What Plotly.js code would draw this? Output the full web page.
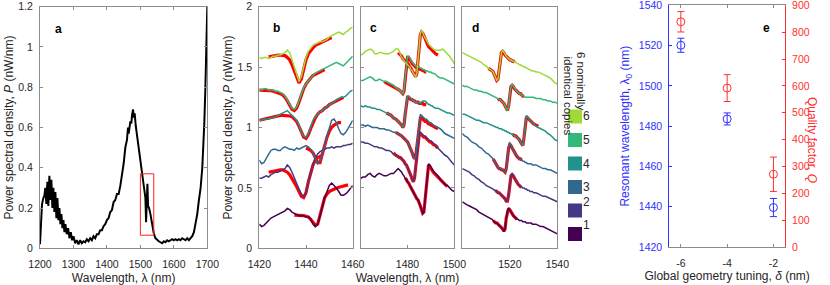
<!DOCTYPE html>
<html><head><meta charset="utf-8">
<script src="https://cdn.plot.ly/plotly-3.0.1.min.js"></script>
<style>html,body{margin:0;padding:0;background:#fff}#plot{width:830px;height:285px}</style>
</head><body><div id="plot"></div>
<script>
// ---------------- DATA ----------------
// Panel a: full spectrum
const aX = [1200,1203,1206,1210,1213,1216,1219,1222,1225,1228,1231,1234,1237,1240,1243,1246,1249,1252,1255,1258,1261,1264,1267,1270,1273,1276,1280,1284,1288,1292,1296,1300,1305,1310,1315,1320,1325,1330,1335,1340,1345,1350,1355,1360,1365,1370,1375,1380,1385,1390,1395,1400,1405,1410,1415,1420,1425,1430,1435,1440,1445,1448,1450,1455,1460,1463,1465,1470,1473,1475,1478,1480,1483,1486,1490,1495,1500,1505,1510,1515,1517,1519,1521,1523,1526,1530,1535,1540,1545,1550,1555,1560,1565,1570,1575,1580,1585,1590,1595,1600,1605,1610,1615,1620,1625,1630,1635,1640,1645,1650,1655,1660,1665,1670,1675,1680,1685,1688,1691,1694,1697,1700];
const aY = [0.02,0.12,0.22,0.25,0.26,0.30,0.22,0.33,0.21,0.36,0.24,0.34,0.20,0.30,0.18,0.28,0.15,0.25,0.14,0.20,0.12,0.17,0.10,0.14,0.08,0.12,0.07,0.10,0.05,0.08,0.04,0.06,0.025,0.04,0.02,0.04,0.025,0.035,0.03,0.045,0.035,0.05,0.04,0.06,0.05,0.07,0.07,0.09,0.09,0.11,0.12,0.14,0.15,0.18,0.19,0.23,0.24,0.27,0.27,0.31,0.36,0.41,0.42,0.50,0.54,0.60,0.57,0.63,0.62,0.66,0.69,0.65,0.67,0.61,0.56,0.50,0.44,0.37,0.30,0.25,0.13,0.22,0.32,0.21,0.20,0.17,0.11,0.075,0.05,0.04,0.035,0.03,0.025,0.035,0.03,0.04,0.035,0.04,0.045,0.04,0.045,0.04,0.045,0.04,0.05,0.045,0.04,0.05,0.04,0.05,0.06,0.08,0.12,0.17,0.24,0.30,0.40,0.50,0.62,0.78,0.97,1.20];
const boxX = [1500,1540];
const boxY = [0.065,0.37];

// Panel b: 1420-1460 nm, copies 1..6
const bX = [1420,1421,1422,1423,1424,1425,1426,1427,1428,1429,1430,1431,1432,1433,1434,1435,1436,1437,1438,1439,1440,1441,1442,1443,1444,1445,1446,1447,1448,1449,1450,1451,1452,1453,1454,1455,1456,1457,1458,1459,1460];
const b1 = [0.20,0.18,0.19,0.21,0.23,0.25,0.26,0.27,0.28,0.29,0.30,0.31,0.33,0.32,0.30,0.29,0.28,0.27,0.27,0.27,0.26,0.26,0.24,0.20,0.18,0.20,0.27,0.35,0.42,0.47,0.52,0.54,0.52,0.50,0.47,0.44,0.44,0.45,0.47,0.50,0.52];
const b2 = [0.58,0.58,0.59,0.60,0.59,0.61,0.62,0.63,0.63,0.64,0.65,0.66,0.69,0.67,0.63,0.58,0.53,0.49,0.45,0.43,0.46,0.55,0.63,0.70,0.75,0.78,0.80,0.81,0.82,0.83,0.83,0.84,0.83,0.84,0.84,0.84,0.85,0.85,0.86,0.86,0.87];
const b3 = [0.73,0.70,0.71,0.75,0.78,0.81,0.82,0.82,0.81,0.81,0.83,0.84,0.83,0.82,0.82,0.81,0.83,0.82,0.83,0.84,0.85,0.84,0.82,0.79,0.75,0.70,0.72,0.78,0.85,0.93,1.00,1.06,1.07,1.04,0.99,0.95,0.94,0.96,0.99,1.03,1.06];
const b4 = [1.06,1.06,1.07,1.07,1.07,1.08,1.08,1.09,1.10,1.11,1.12,1.13,1.14,1.12,1.10,1.08,1.06,1.02,0.96,0.93,0.92,0.95,1.01,1.06,1.09,1.11,1.13,1.14,1.16,1.17,1.19,1.20,1.21,1.23,1.24,1.25,1.25,1.26,1.28,1.30,1.31];
const b5 = [1.31,1.31,1.32,1.32,1.31,1.31,1.31,1.30,1.30,1.29,1.28,1.26,1.23,1.19,1.16,1.15,1.17,1.22,1.28,1.33,1.36,1.39,1.41,1.43,1.45,1.46,1.47,1.48,1.49,1.50,1.51,1.52,1.53,1.54,1.53,1.52,1.51,1.53,1.55,1.57,1.59];
const b6 = [1.58,1.57,1.58,1.58,1.57,1.58,1.59,1.59,1.60,1.60,1.61,1.62,1.64,1.62,1.56,1.50,1.43,1.38,1.42,1.50,1.58,1.63,1.66,1.68,1.69,1.70,1.71,1.71,1.72,1.73,1.75,1.76,1.77,1.78,1.79,1.78,1.77,1.79,1.80,1.82,1.83];
// fits, panel b
const fb1x = [1435,1436,1437,1438,1439,1440,1441,1442,1443,1444,1445,1446,1447,1448,1449,1450,1451,1452,1453,1454,1455,1456,1457,1458];
const fb1y = [0.275,0.275,0.275,0.27,0.27,0.265,0.26,0.24,0.21,0.19,0.20,0.27,0.36,0.42,0.45,0.47,0.48,0.49,0.50,0.505,0.51,0.515,0.52,0.525];
const fb2x = [1424,1425,1426,1427,1428,1429,1430,1431,1432,1433,1434,1435,1436,1437,1438,1439,1440,1441,1442,1443,1444,1445,1446,1447];
const fb2y = [0.63,0.635,0.64,0.645,0.65,0.65,0.65,0.64,0.63,0.61,0.58,0.55,0.51,0.47,0.43,0.42,0.46,0.55,0.63,0.69,0.73,0.75,0.76,0.77];
const fb3x = [1440,1441,1442,1443,1444,1445,1446,1447,1448,1449,1450,1451,1452,1453,1454,1455];
const fb3y = [0.83,0.82,0.81,0.79,0.75,0.71,0.71,0.77,0.85,0.92,0.97,1.00,1.02,1.03,1.04,1.04];
const fb4x = [1420,1421,1422,1423,1424,1425,1426,1427,1428,1429,1430,1431,1432,1433,1434,1435,1436,1437,1438,1439,1440,1441,1442,1443,1444,1445,1446,1447,1448,1449,1450,1451,1452,1453,1454,1455,1456];
const fb4y = [1.06,1.065,1.07,1.075,1.08,1.085,1.09,1.09,1.095,1.10,1.10,1.10,1.10,1.095,1.09,1.07,1.05,1.01,0.96,0.92,0.91,0.94,0.99,1.04,1.08,1.11,1.13,1.14,1.16,1.17,1.19,1.20,1.21,1.22,1.23,1.24,1.25];
const fb5x = [1420,1421,1422,1423,1424,1425,1426,1427,1428,1429,1430,1431,1432,1433,1434,1435,1436,1437,1438,1439,1440,1441,1442,1443,1444,1445,1446,1447,1448];
const fb5y = [1.31,1.31,1.31,1.31,1.31,1.305,1.30,1.295,1.29,1.28,1.27,1.25,1.22,1.18,1.15,1.14,1.16,1.21,1.27,1.32,1.36,1.39,1.41,1.43,1.44,1.45,1.46,1.47,1.48];
const fb6x = [1424,1425,1426,1427,1428,1429,1430,1431,1432,1433,1434,1435,1436,1437,1438,1439,1440,1441,1442,1443,1444,1445,1446,1447,1448,1449,1450,1451];
const fb6y = [1.585,1.587,1.59,1.595,1.60,1.60,1.60,1.595,1.58,1.56,1.52,1.47,1.41,1.37,1.40,1.48,1.56,1.61,1.64,1.66,1.68,1.69,1.70,1.71,1.72,1.73,1.74,1.745];

// Panel c: 1460-1500 nm
const cX = [1460,1461,1462,1463,1464,1465,1466,1467,1468,1469,1470,1471,1472,1473,1474,1475,1476,1476.5,1477,1477.5,1478,1478.5,1479,1479.5,1480,1480.5,1481,1481.5,1482,1482.5,1483,1483.5,1484,1484.5,1485,1485.5,1486,1486.5,1487,1487.5,1488,1488.5,1489,1489.5,1490,1490.5,1491,1492,1493,1494,1495,1496,1497,1498,1499,1500];
const c1 = [0.58,0.59,0.59,0.61,0.62,0.60,0.59,0.61,0.62,0.61,0.60,0.60,0.61,0.62,0.62,0.64,0.66,0.65,0.64,0.63,0.61,0.60,0.58,0.57,0.55,0.54,0.52,0.50,0.48,0.47,0.45,0.43,0.41,0.40,0.38,0.35,0.32,0.29,0.30,0.40,0.55,0.66,0.70,0.69,0.67,0.66,0.64,0.62,0.60,0.57,0.55,0.53,0.52,0.50,0.48,0.47];
const c2 = [0.88,0.88,0.87,0.87,0.86,0.85,0.84,0.84,0.83,0.83,0.82,0.81,0.81,0.80,0.78,0.77,0.76,0.75,0.75,0.74,0.73,0.72,0.70,0.69,0.67,0.65,0.63,0.60,0.57,0.55,0.58,0.68,0.80,0.90,0.95,0.96,0.95,0.94,0.93,0.93,0.92,0.91,0.90,0.89,0.89,0.88,0.87,0.85,0.83,0.81,0.79,0.77,0.76,0.73,0.71,0.69];
const c3 = [1.02,1.02,1.01,1.02,1.01,1.00,1.00,1.00,0.99,0.99,0.99,0.98,0.98,0.97,0.96,0.96,0.95,0.94,0.94,0.93,0.92,0.91,0.90,0.89,0.88,0.86,0.84,0.82,0.79,0.76,0.74,0.76,0.85,0.98,1.07,1.11,1.10,1.09,1.08,1.07,1.07,1.06,1.05,1.04,1.04,1.03,1.02,1.01,1.00,0.99,0.97,0.95,0.94,0.93,0.92,0.91];
const c4 = [1.18,1.17,1.18,1.17,1.17,1.16,1.16,1.15,1.15,1.14,1.13,1.12,1.11,1.10,1.08,1.07,1.05,1.04,1.03,1.02,1.00,1.02,1.12,1.22,1.26,1.26,1.25,1.24,1.23,1.22,1.22,1.21,1.21,1.21,1.21,1.20,1.21,1.22,1.22,1.22,1.21,1.20,1.19,1.19,1.18,1.18,1.17,1.16,1.16,1.15,1.14,1.13,1.12,1.12,1.11,1.10];
const c5 = [1.39,1.39,1.40,1.41,1.42,1.41,1.39,1.39,1.40,1.39,1.38,1.38,1.37,1.36,1.35,1.33,1.32,1.31,1.30,1.29,1.28,1.31,1.42,1.54,1.59,1.59,1.57,1.55,1.54,1.53,1.52,1.51,1.51,1.50,1.50,1.49,1.49,1.48,1.48,1.47,1.47,1.47,1.46,1.46,1.46,1.45,1.45,1.44,1.42,1.41,1.41,1.40,1.39,1.38,1.37,1.36];
const c6 = [1.60,1.61,1.63,1.64,1.65,1.64,1.61,1.61,1.62,1.62,1.61,1.61,1.61,1.62,1.63,1.65,1.65,1.63,1.60,1.58,1.57,1.55,1.54,1.53,1.52,1.51,1.50,1.48,1.47,1.45,1.43,1.42,1.45,1.57,1.70,1.78,1.80,1.79,1.76,1.74,1.72,1.70,1.69,1.68,1.67,1.66,1.65,1.64,1.64,1.64,1.65,1.63,1.61,1.59,1.56,1.53];
// fits, panel c
const fc1x = [1479,1479.5,1480,1480.5,1481,1481.5,1482,1482.5,1483,1483.5,1484,1484.5,1485,1485.5,1486,1486.5,1487,1487.5,1488,1488.5,1489,1489.5,1490,1490.5,1491,1492,1493,1494,1495,1496,1497];
const fc1y = [0.58,0.57,0.55,0.54,0.52,0.50,0.48,0.47,0.45,0.43,0.41,0.40,0.38,0.35,0.32,0.29,0.30,0.40,0.54,0.65,0.69,0.68,0.66,0.65,0.63,0.61,0.59,0.57,0.55,0.53,0.51];
const fc2x = [1474,1475,1476,1476.5,1477,1477.5,1478,1478.5,1479,1479.5,1480,1480.5,1481,1481.5,1482,1482.5,1483,1483.5,1484,1484.5,1485,1485.5,1486,1486.5,1487,1487.5,1488,1488.5,1489,1489.5,1490,1490.5,1491,1492,1493];
const fc2y = [0.79,0.77,0.76,0.75,0.75,0.74,0.73,0.72,0.70,0.69,0.67,0.65,0.63,0.60,0.57,0.55,0.58,0.68,0.80,0.89,0.94,0.95,0.94,0.93,0.92,0.92,0.91,0.90,0.89,0.88,0.88,0.87,0.86,0.85,0.83];
const fc3x = [1475,1476,1476.5,1477,1477.5,1478,1478.5,1479,1479.5,1480,1480.5,1481,1481.5,1482,1482.5,1483,1483.5,1484,1484.5,1485,1485.5,1486,1486.5,1487,1487.5,1488,1488.5,1489,1489.5,1490,1490.5,1491,1492,1493];
const fc3y = [0.96,0.95,0.94,0.94,0.93,0.92,0.91,0.90,0.89,0.88,0.86,0.84,0.82,0.79,0.76,0.74,0.76,0.84,0.96,1.05,1.08,1.08,1.07,1.06,1.05,1.05,1.04,1.03,1.03,1.02,1.02,1.01,1.00,0.99];
const fc4x = [1471,1472,1473,1474,1475,1476,1476.5,1477,1477.5,1478,1478.5,1479,1479.5,1480,1480.5,1481,1481.5,1482,1482.5,1483,1483.5,1484,1484.5,1485,1485.5,1486,1486.5,1487,1487.5,1488];
const fc4y = [1.12,1.11,1.10,1.08,1.07,1.05,1.04,1.03,1.02,1.00,1.02,1.11,1.21,1.25,1.25,1.24,1.23,1.23,1.22,1.22,1.21,1.21,1.21,1.20,1.20,1.20,1.20,1.19,1.19,1.19];
const fc5x = [1470,1471,1472,1473,1474,1475,1476,1476.5,1477,1477.5,1478,1478.5,1479,1479.5,1480,1480.5,1481,1481.5,1482,1482.5,1483,1483.5,1484,1484.5,1485,1485.5,1486,1486.5,1487,1487.5,1488];
const fc5y = [1.38,1.37,1.36,1.35,1.34,1.33,1.32,1.31,1.30,1.29,1.28,1.30,1.41,1.53,1.58,1.58,1.56,1.54,1.53,1.52,1.51,1.50,1.50,1.49,1.49,1.48,1.48,1.47,1.47,1.46,1.46];
const fc6x = [1476,1476.5,1477,1477.5,1478,1478.5,1479,1479.5,1480,1480.5,1481,1481.5,1482,1482.5,1483,1483.5,1484,1484.5,1485,1485.5,1486,1486.5,1487,1487.5,1488,1488.5,1489,1489.5,1490,1490.5,1491,1492,1493];
const fc6y = [1.62,1.61,1.60,1.59,1.57,1.56,1.55,1.54,1.53,1.52,1.50,1.49,1.47,1.45,1.43,1.42,1.45,1.56,1.69,1.77,1.79,1.78,1.76,1.73,1.71,1.69,1.67,1.66,1.65,1.64,1.63,1.61,1.60];

// Panel d: 1500-1540 nm
const dX = [1500,1501,1502,1503,1504,1505,1506,1507,1508,1509,1510,1511,1512,1512.5,1513,1513.5,1514,1514.5,1515,1515.5,1516,1516.5,1517,1517.5,1518,1518.5,1519,1519.5,1520,1520.5,1521,1521.5,1522,1522.5,1523,1523.5,1524,1524.5,1525,1525.5,1526,1526.5,1527,1527.5,1528,1528.5,1529,1529.5,1530,1531,1532,1533,1534,1535,1536,1537,1538,1539,1540];
const d1 = [0.385,0.37,0.36,0.35,0.34,0.33,0.32,0.30,0.29,0.28,0.27,0.26,0.25,0.24,0.23,0.22,0.21,0.21,0.20,0.19,0.18,0.17,0.16,0.14,0.16,0.25,0.31,0.33,0.32,0.30,0.28,0.27,0.26,0.25,0.24,0.24,0.23,0.23,0.23,0.22,0.22,0.22,0.21,0.21,0.21,0.21,0.21,0.20,0.20,0.20,0.19,0.18,0.18,0.17,0.16,0.15,0.14,0.13,0.12];
const d2 = [0.66,0.65,0.64,0.63,0.61,0.60,0.58,0.57,0.55,0.54,0.52,0.51,0.50,0.50,0.49,0.48,0.48,0.47,0.46,0.46,0.45,0.44,0.43,0.42,0.41,0.39,0.39,0.44,0.53,0.60,0.62,0.60,0.58,0.56,0.55,0.53,0.52,0.51,0.51,0.50,0.50,0.49,0.49,0.48,0.48,0.47,0.47,0.47,0.46,0.46,0.45,0.44,0.43,0.43,0.42,0.41,0.40,0.39,0.385];
const d3 = [0.95,0.93,0.92,0.90,0.88,0.87,0.86,0.84,0.83,0.81,0.79,0.78,0.76,0.75,0.74,0.72,0.70,0.68,0.67,0.66,0.66,0.65,0.65,0.64,0.63,0.66,0.75,0.84,0.87,0.86,0.83,0.81,0.79,0.77,0.76,0.75,0.74,0.74,0.73,0.72,0.72,0.71,0.71,0.70,0.70,0.70,0.70,0.69,0.69,0.69,0.68,0.67,0.66,0.66,0.65,0.65,0.64,0.63,0.62];
const d4 = [1.11,1.11,1.10,1.09,1.08,1.07,1.06,1.06,1.05,1.04,1.04,1.03,1.02,1.02,1.01,1.01,1.00,1.00,1.00,0.99,0.99,0.99,0.98,0.98,0.97,0.97,0.96,0.96,0.95,0.95,0.94,0.94,0.93,0.93,0.92,0.91,0.90,0.88,0.86,0.85,0.92,1.05,1.10,1.09,1.07,1.06,1.05,1.04,1.03,1.01,1.00,0.99,0.98,0.97,0.95,0.94,0.92,0.90,0.89];
const d5 = [1.35,1.34,1.34,1.33,1.32,1.31,1.31,1.30,1.30,1.29,1.29,1.28,1.27,1.27,1.26,1.26,1.25,1.25,1.24,1.23,1.23,1.22,1.21,1.20,1.18,1.15,1.14,1.18,1.27,1.34,1.36,1.34,1.32,1.31,1.30,1.29,1.28,1.28,1.27,1.26,1.26,1.25,1.25,1.25,1.25,1.25,1.25,1.25,1.25,1.24,1.24,1.24,1.23,1.23,1.22,1.22,1.21,1.21,1.20];
const d6 = [1.62,1.61,1.60,1.59,1.58,1.57,1.56,1.55,1.54,1.52,1.51,1.49,1.48,1.47,1.46,1.44,1.42,1.39,1.40,1.48,1.57,1.62,1.64,1.62,1.61,1.59,1.58,1.57,1.56,1.56,1.55,1.55,1.54,1.54,1.53,1.53,1.52,1.52,1.51,1.51,1.50,1.50,1.49,1.49,1.48,1.48,1.47,1.47,1.47,1.46,1.46,1.45,1.44,1.43,1.42,1.41,1.39,1.37,1.36];
// fits, panel d
const fd1x = [1513,1513.5,1514,1514.5,1515,1515.5,1516,1516.5,1517,1517.5,1518,1518.5,1519,1519.5,1520,1520.5,1521,1521.5,1522,1522.5,1523];
const fd1y = [0.23,0.22,0.21,0.21,0.20,0.19,0.18,0.17,0.16,0.14,0.16,0.25,0.31,0.33,0.32,0.30,0.28,0.27,0.26,0.25,0.24];
const fd2x = [1514,1514.5,1515,1515.5,1516,1516.5,1517,1517.5,1518,1518.5,1519,1519.5,1520,1520.5,1521,1521.5,1522,1522.5,1523,1523.5,1524,1524.5,1525];
const fd2y = [0.48,0.47,0.46,0.46,0.45,0.44,0.43,0.42,0.41,0.39,0.39,0.44,0.53,0.60,0.61,0.60,0.58,0.56,0.55,0.53,0.52,0.51,0.51];
const fd3x = [1513,1513.5,1514,1514.5,1515,1515.5,1516,1516.5,1517,1517.5,1518,1518.5,1519,1519.5,1520,1520.5,1521,1521.5,1522,1522.5,1523,1523.5,1524,1524.5,1525];
const fd3y = [0.74,0.72,0.70,0.68,0.67,0.66,0.66,0.65,0.65,0.64,0.63,0.66,0.75,0.83,0.86,0.85,0.83,0.81,0.79,0.77,0.76,0.75,0.74,0.74,0.73];
const fd4x = [1521,1521.5,1522,1522.5,1523,1523.5,1524,1524.5,1525,1525.5,1526,1526.5,1527,1527.5,1528,1528.5,1529,1529.5,1530,1531,1532];
const fd4y = [0.94,0.94,0.93,0.93,0.92,0.91,0.90,0.88,0.86,0.85,0.92,1.04,1.09,1.08,1.07,1.06,1.05,1.04,1.03,1.02,1.01];
const fd5x = [1515,1515.5,1516,1516.5,1517,1517.5,1518,1518.5,1519,1519.5,1520,1520.5,1521,1521.5,1522,1522.5,1523,1523.5,1524,1524.5,1525,1525.5,1526];
const fd5y = [1.24,1.23,1.23,1.22,1.21,1.20,1.18,1.15,1.14,1.18,1.27,1.34,1.35,1.34,1.32,1.31,1.30,1.29,1.28,1.28,1.27,1.26,1.26];
const fd6x = [1511,1512,1512.5,1513,1513.5,1514,1514.5,1515,1515.5,1516,1516.5,1517,1517.5,1518,1518.5,1519,1519.5,1520,1520.5,1521,1521.5,1522];
const fd6y = [1.49,1.48,1.47,1.46,1.44,1.42,1.39,1.40,1.48,1.57,1.62,1.63,1.62,1.60,1.59,1.58,1.57,1.56,1.56,1.55,1.55,1.54];

// Panel e: global geometry tuning
const delta = [-6,-4,-2];
const lambda0 = [1520.2,1483.6,1439.6];
const lambda0Err = [3.5,3.0,4.5];
const qFactor = [839,592,271];
const qFactorErr = [38,50,64];

// Legend
const copyLabels = ['1','2','3','4','5','6'];
const copyColors = ['#440154','#443983','#31688e','#21918c','#35b779','#a0da39'];

// ---------------- LAYOUT HELPERS ----------------
const W = 830, H = 285;
const fx = p => p / W, fy = p => 1 - p / H;
const FONT = '"Liberation Sans", Arial, sans-serif';
const GRAY = '#8c8c8c', TXT = '#262626', BLUE = '#3030ff', RED = '#ff3030';
const TF = {family: FONT, size: 10.5, color: TXT};
const TTL = {family: FONT, size: 12, color: TXT};

function ax(extra) {
  return Object.assign({
    showline: true, linecolor: GRAY, linewidth: 1, mirror: 'ticks',
    ticks: 'inside', ticklen: 3, tickcolor: GRAY, tickwidth: 1,
    showgrid: false, zeroline: false, tickfont: TF, fixedrange: true,
    ticklabeloverflow: 'allow'
  }, extra);
}

const yTop = 6.7, yBot = 248.3;
const yDom = [fy(yBot), fy(yTop)];

const traces = [];
// panel a
traces.push({x: aX, y: aY, xaxis: 'x', yaxis: 'y', mode: 'lines', line: {color: '#000', width: 2}, hoverinfo: 'skip'});

const bData = [b1,b2,b3,b4,b5,b6], cData = [c1,c2,c3,c4,c5,c6], dData = [d1,d2,d3,d4,d5,d6];
const bFits = [[fb1x,fb1y],[fb2x,fb2y],[fb3x,fb3y],[fb4x,fb4y],[fb5x,fb5y],[fb6x,fb6y]];
const cFits = [[fc1x,fc1y],[fc2x,fc2y],[fc3x,fc3y],[fc4x,fc4y],[fc5x,fc5y],[fc6x,fc6y]];
const dFits = [[fd1x,fd1y],[fd2x,fd2y],[fd3x,fd3y],[fd4x,fd4y],[fd5x,fd5y],[fd6x,fd6y]];
const panels = [
  {xa: 'x2', ya: 'y2', X: bX, data: bData, fits: bFits},
  {xa: 'x3', ya: 'y3', X: cX, data: cData, fits: cFits},
  {xa: 'x4', ya: 'y4', X: dX, data: dData, fits: dFits}
];
panels.forEach(p => {
  p.fits.forEach(f => traces.push({x: f[0], y: f[1], xaxis: p.xa, yaxis: p.ya, mode: 'lines',
    line: {color: '#ff0000', width: 3.2}, hoverinfo: 'skip'}));
  p.data.forEach((d, i) => traces.push({x: p.X, y: d, xaxis: p.xa, yaxis: p.ya, mode: 'lines',
    line: {color: copyColors[i], width: 1.5}, hoverinfo: 'skip'}));
});
// panel e
traces.push({x: delta, y: lambda0, xaxis: 'x5', yaxis: 'y5', mode: 'markers',
  marker: {symbol: 'circle-open', size: 8, color: BLUE, line: {width: 1, color: BLUE}},
  error_y: {type: 'data', array: lambda0Err, visible: true, color: BLUE, thickness: 1, width: 3.5}});
traces.push({x: delta, y: qFactor, xaxis: 'x5', yaxis: 'y6', mode: 'markers',
  marker: {symbol: 'circle-open', size: 8, color: RED, line: {width: 1, color: RED}},
  error_y: {type: 'data', array: qFactorErr, visible: true, color: RED, thickness: 1, width: 3.5}});

const wl = 'Wavelength, λ (nm)';
const layout = {
  width: W, height: H, margin: {l: 0, r: 0, t: 0, b: 0},
  paper_bgcolor: '#fff', plot_bgcolor: 'rgba(0,0,0,0)',
  showlegend: false, font: {family: FONT, size: 11, color: TXT},
  xaxis: ax({domain: [fx(40), fx(207.3)], range: [1200, 1700], anchor: 'y',
    tickvals: [1200,1300,1400,1500,1600,1700], ticklabelstandoff: 6,
    title: {text: wl, font: TTL, standoff: 4}}),
  yaxis: ax({domain: yDom, range: [0, 1.2], anchor: 'x',
    tickvals: [0,0.2,0.4,0.6,0.8,1,1.2], ticklabelstandoff: 4,
    title: {text: 'Power spectral density, <i>P</i> (nW/nm)', font: TTL, standoff: 2}}),
  xaxis2: ax({domain: [fx(259.3), fx(352.7)], range: [1420, 1460], anchor: 'y2',
    tickvals: [1420,1440,1460], ticklabelstandoff: 6}),
  yaxis2: ax({domain: yDom, range: [0, 2], anchor: 'x2',
    tickvals: [0,0.5,1,1.5,2], ticklabelstandoff: 4,
    title: {text: 'Power spectral density, <i>P</i> (nW/nm)', font: TTL, standoff: 2}}),
  xaxis3: ax({domain: [fx(360.7), fx(454.3)], range: [1460, 1500], anchor: 'y3',
    tickvals: [1480,1500], ticklabelstandoff: 6,
    title: {text: wl, font: TTL, standoff: 4}}),
  yaxis3: ax({domain: yDom, range: [0, 2], anchor: 'x3', tickvals: [0,0.5,1,1.5,2], showticklabels: false}),
  xaxis4: ax({domain: [fx(462.3), fx(557.3)], range: [1500, 1540], anchor: 'y4',
    tickvals: [1520,1540], ticklabelstandoff: 6}),
  yaxis4: ax({domain: yDom, range: [0, 2], anchor: 'x4', tickvals: [0,0.5,1,1.5,2], showticklabels: false}),
  xaxis5: ax({domain: [fx(669.3), fx(785)], range: [-6.5, -1.5], anchor: 'y5',
    tickvals: [-6,-4,-2], ticktext: ['-6','-4','-2'], ticklabelstandoff: 6,
    title: {text: 'Global geometry tuning, <i>δ</i> (nm)', font: TTL, standoff: 4}}),
  yaxis5: ax({domain: [fy(247), fy(5.4)], range: [1420, 1540], anchor: 'x5', side: 'left',
    mirror: false, linecolor: BLUE, tickcolor: BLUE, tickfont: {family: FONT, size: 10.5, color: BLUE},
    tickvals: [1420,1440,1460,1480,1500,1520,1540], ticklabelstandoff: 4,
    title: {text: 'Resonant wavelength, λ<sub>0</sub> (nm)', font: {family: FONT, size: 12, color: BLUE}, standoff: 6}}),
  yaxis6: ax({domain: [fy(247), fy(5.4)], range: [0, 900], anchor: 'x5', overlaying: 'y5', side: 'right',
    mirror: false, linecolor: RED, tickcolor: RED, tickfont: {family: FONT, size: 10.5, color: RED},
    tickvals: [0,100,200,300,400,500,600,700,800,900], ticklabelstandoff: 4}),
  shapes: [
    {type: 'rect', xref: 'x', yref: 'y', x0: boxX[0], x1: boxX[1], y0: boxY[0], y1: boxY[1],
      line: {color: '#ff2020', width: 1}, fillcolor: 'rgba(0,0,0,0)'}
  ],
  annotations: [
    {text: '<b>a</b>', x: fx(53), y: fy(20), xref: 'paper', yref: 'paper', showarrow: false, font: {family: FONT, size: 12, color: '#000'}},
    {text: '<b>b</b>', x: fx(271), y: fy(19), xref: 'paper', yref: 'paper', showarrow: false, font: {family: FONT, size: 12, color: '#000'}},
    {text: '<b>c</b>', x: fx(373), y: fy(19), xref: 'paper', yref: 'paper', showarrow: false, font: {family: FONT, size: 12, color: '#000'}},
    {text: '<b>d</b>', x: fx(475), y: fy(19), xref: 'paper', yref: 'paper', showarrow: false, font: {family: FONT, size: 12, color: '#000'}},
    {text: '<b>e</b>', x: fx(772), y: fy(19), xref: 'paper', yref: 'paper', showarrow: false, font: {family: FONT, size: 12, color: '#000'}},
    {text: '6 nominally', x: fx(589), y: fy(50), xref: 'paper', yref: 'paper', showarrow: false, textangle: 90, font: {family: FONT, size: 11.5, color: TXT}},
    {text: 'identical copies', x: fx(576), y: fy(54), xref: 'paper', yref: 'paper', showarrow: false, textangle: 90, font: {family: FONT, size: 11.5, color: TXT}},
    {text: 'Quality factor, <i>Q</i>', x: fx(821), y: fy(140), xref: 'paper', yref: 'paper', showarrow: false, textangle: 90, font: {family: FONT, size: 12, color: RED}}
  ]
};
// legend squares + numbers
const legYc = [234, 210.5, 187, 163.5, 140, 116.5];
copyLabels.forEach((lab, i) => {
  layout.shapes.push({type: 'rect', xref: 'paper', yref: 'paper', x0: fx(568), x1: fx(582),
    y0: fy(legYc[i] + 7), y1: fy(legYc[i] - 7), line: {width: 0}, fillcolor: copyColors[i]});
  layout.annotations.push({text: lab, x: fx(592), y: fy(legYc[i]), xref: 'paper', yref: 'paper',
    showarrow: false, font: {family: FONT, size: 12, color: TXT}});
});

Plotly.newPlot('plot', traces, layout, {staticPlot: true, displayModeBar: false});
</script>
</body></html>
